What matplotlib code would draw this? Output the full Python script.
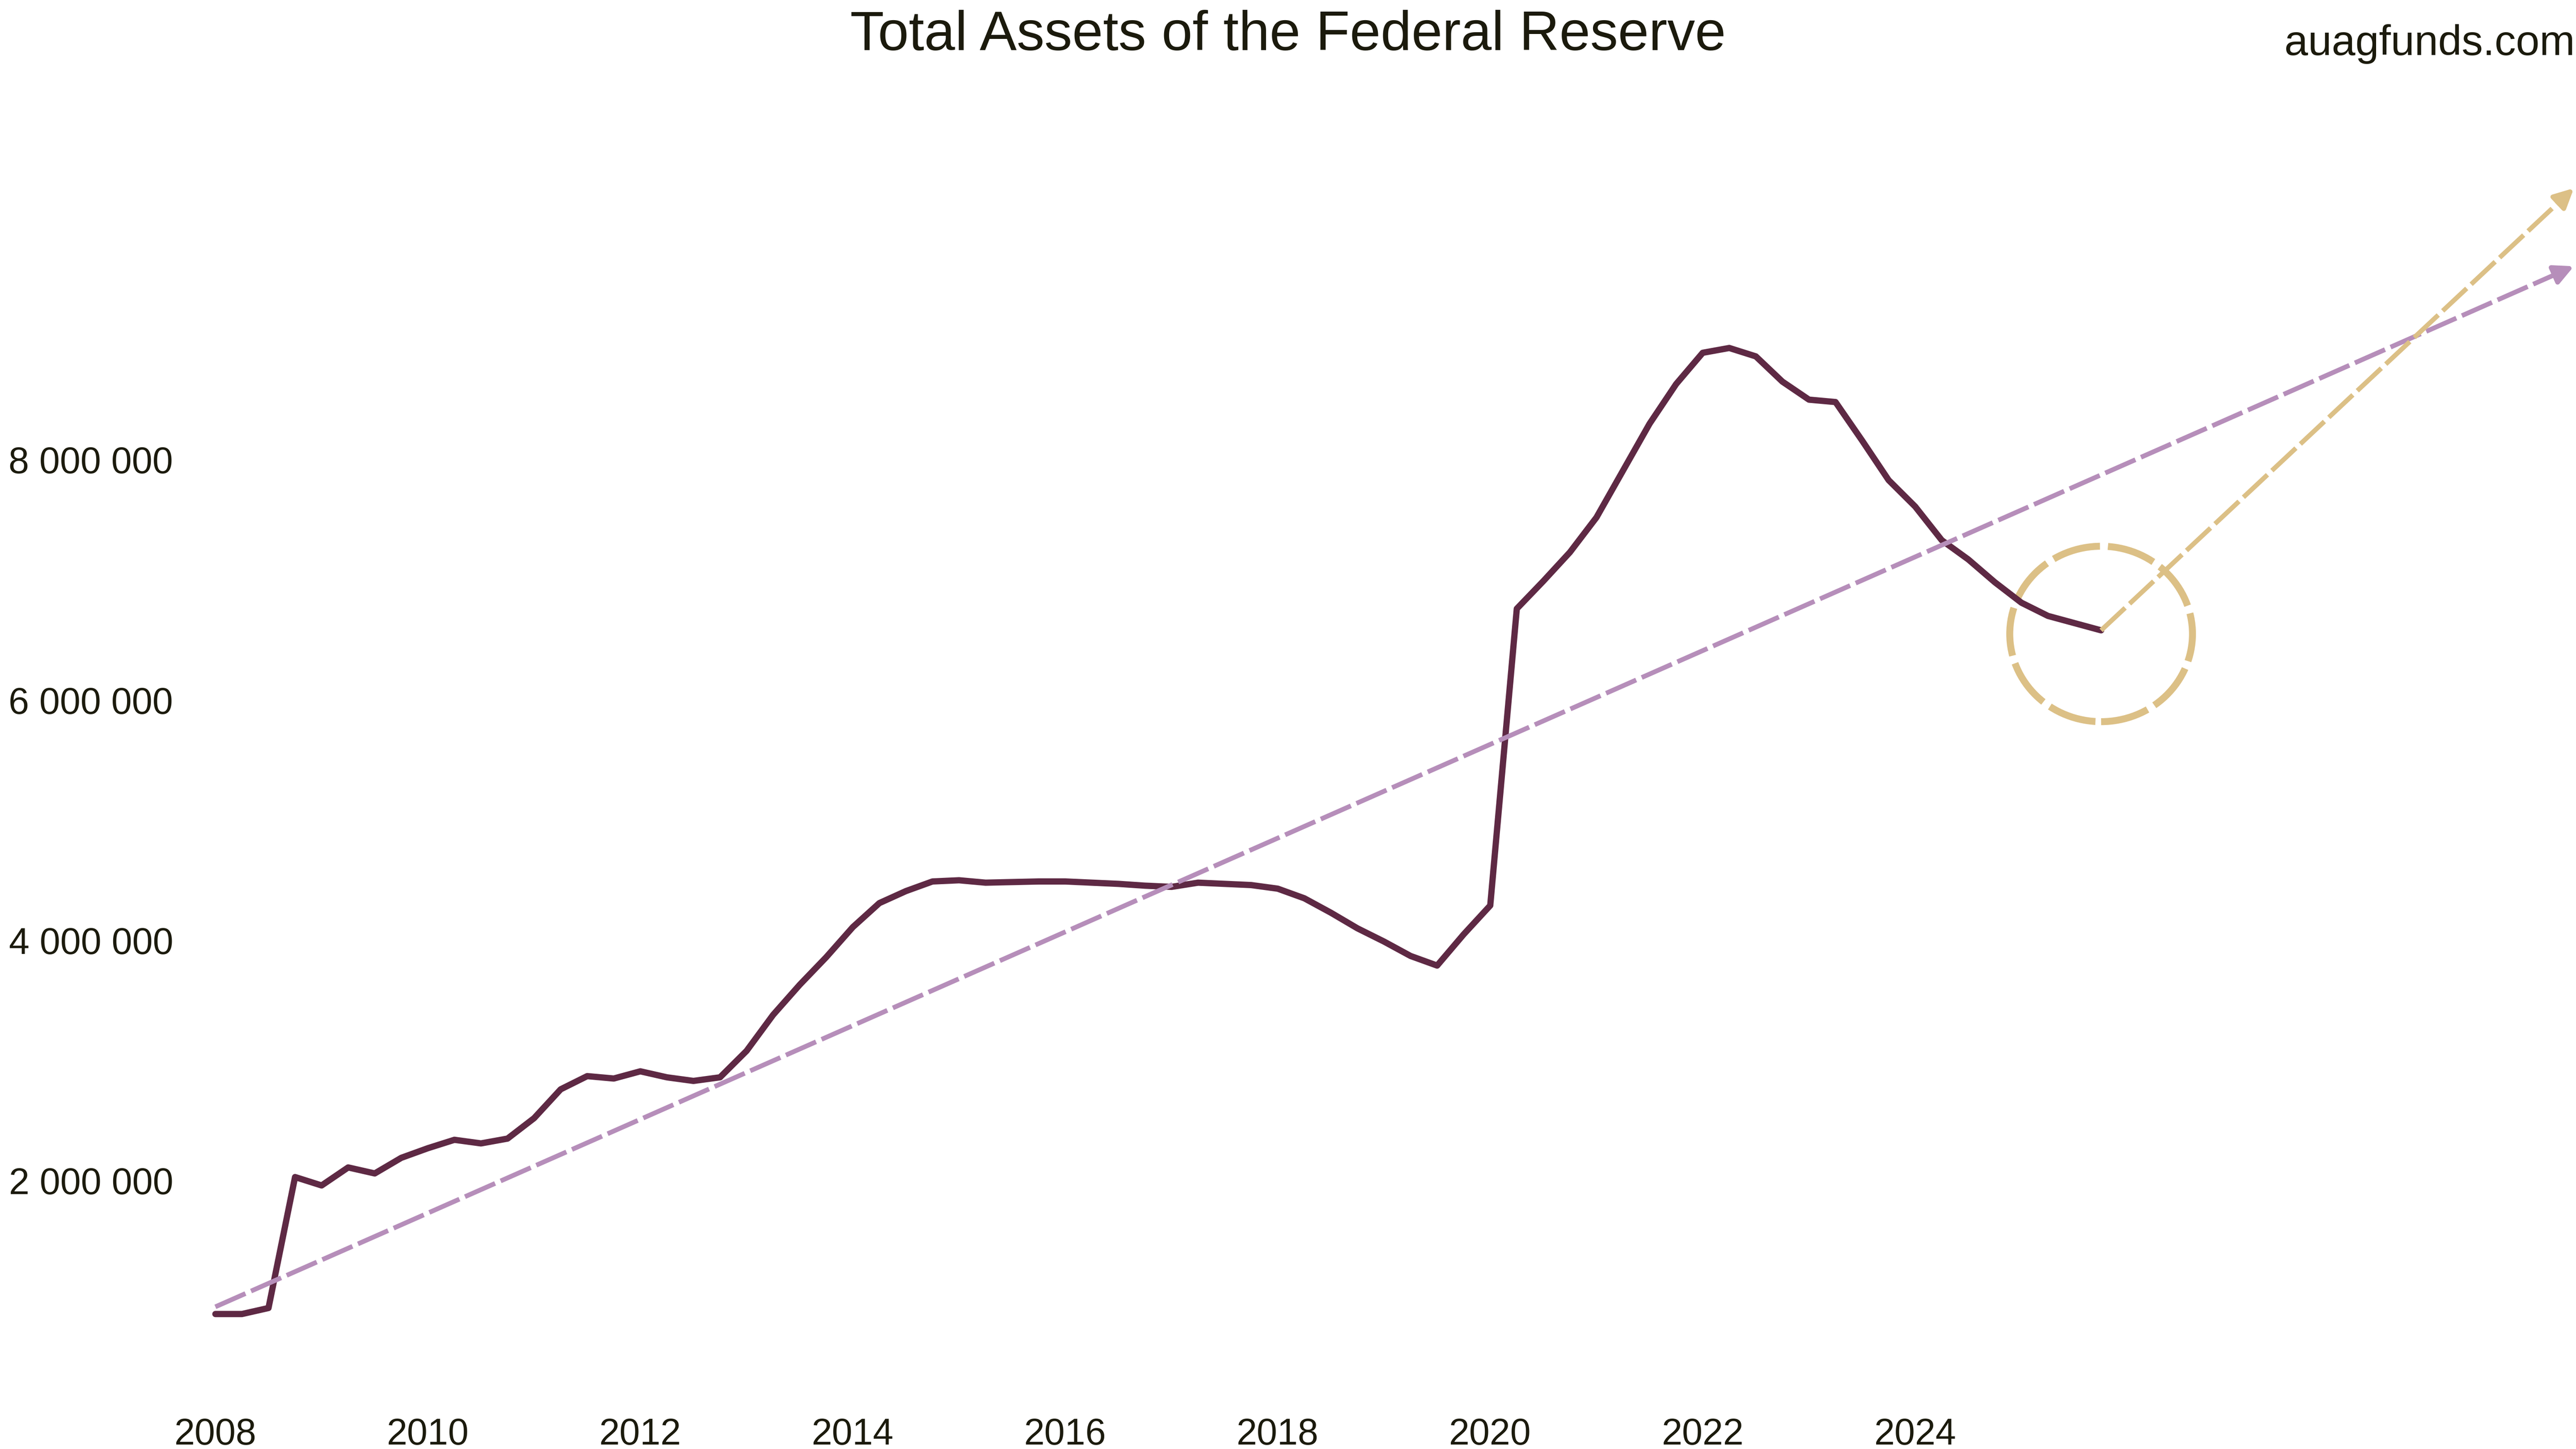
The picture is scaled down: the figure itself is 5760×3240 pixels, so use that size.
import numpy as np
import matplotlib
matplotlib.use("Agg")
import matplotlib.pyplot as plt
from matplotlib.patches import Ellipse
from matplotlib.ticker import FuncFormatter

# 1. Data (quarterly, in millions of USD)
quarters = np.arange(2008, 2026, 0.25)
total_assets_mn = [
    0.89, 0.89, 0.94, 2.03,    # 2008
    1.96, 2.11, 2.06, 2.19,    # 2009
    2.27, 2.34, 2.31, 2.35,    # 2010
    2.52, 2.76, 2.87, 2.85,    # 2011
    2.91, 2.86, 2.83, 2.86,    # 2012
    3.08, 3.38, 3.63, 3.86,    # 2013
    4.11, 4.31, 4.41, 4.49,    # 2014
    4.50, 4.48, 4.485, 4.49,   # 2015
    4.49, 4.48, 4.47, 4.455,   # 2016
    4.445, 4.48, 4.47, 4.46,   # 2017
    4.43, 4.35, 4.23, 4.10,    # 2018
    3.99, 3.87, 3.79, 4.05,    # 2019
    4.29, 6.76, 6.99, 7.23,    # 2020
    7.52, 7.91, 8.30, 8.63,    # 2021
    8.89, 8.93, 8.86, 8.65,    # 2022
    8.50, 8.48, 8.16, 7.83,    # 2023
    7.61, 7.33, 7.17, 6.98,    # 2024
    6.81, 6.70, 6.64, 6.58,    # 2025
]
total_assets = np.array(total_assets_mn) * 1e6

# trend line and projection arrow (start / end points)
trend_years = [2008.0, 2030.2]
trend_values = [0.95e6, 9.61e6]
projection_years = [2025.75, 2030.2]
projection_values = [6.58e6, 10.26e6]

# highlight around the last reading
highlight_center = (2025.75, 6.55e6)
highlight_size = (1.72, 1.46e6)

x_ticks = [2008, 2010, 2012, 2014, 2016, 2018, 2020, 2022, 2024]
y_ticks = [2e6, 4e6, 6e6, 8e6]

# 2. Styling
LINE = '#5e2944'
PURPLE = '#b68eba'
GOLD = '#dcc086'
TEXT = '#1b1a0c'
DASH = (0, (7, 1.3))

plt.rcParams['font.family'] = ['Liberation Sans', 'DejaVu Sans']

fig = plt.figure(figsize=(16, 9), dpi=360)
ax = fig.add_axes([0.0733, 0.0327, 0.9267, 0.8988])
ax.set_xlim(2007.75, 2030.22)
ax.set_ylim(0.161e6, 11.0e6)


def dashed_arrow(xs, ys, color, head_frac):
    # dashed shaft up to the head base, then a solid head on top
    bx = xs[1] - head_frac * (xs[1] - xs[0])
    by = ys[1] - head_frac * (ys[1] - ys[0])
    ax.plot([xs[0], bx], [ys[0], by], color=color, lw=2.1, ls=DASH,
            dash_capstyle='butt', zorder=4)
    ax.annotate('', xy=(xs[1], ys[1]), xytext=(bx, by),
                arrowprops=dict(arrowstyle='-|>', color=color, lw=2.1,
                                mutation_scale=18, shrinkA=0, shrinkB=0,
                                joinstyle='round'),
                zorder=4)


# 3. Chart
ax.add_patch(Ellipse(highlight_center, highlight_size[0], highlight_size[1],
                     fill=False, ec=GOLD, lw=3.1, ls=(0, (7, 1.15)), zorder=2))

ax.plot(quarters, total_assets, color=LINE, lw=2.8,
        solid_capstyle='round', solid_joinstyle='round', zorder=3)

dashed_arrow(trend_years, trend_values, PURPLE, 0.007)
dashed_arrow(projection_years, projection_values, GOLD, 0.027)

# 4. Axes
ax.set_xticks(x_ticks)
ax.set_yticks(y_ticks)
ax.yaxis.set_major_formatter(FuncFormatter(lambda v, p: f'{v:,.0f}'.replace(',', ' ')))
ax.tick_params(length=0, pad=7, labelsize=16.5, colors=TEXT)
for side in ax.spines.values():
    side.set_visible(False)

fig.text(0.5, 1 - 112 / 3240, 'Total Assets of the Federal Reserve',
         ha='center', va='baseline', fontsize=24.8, color=TEXT)
fig.text(0.9995, 1 - 123 / 3240, 'auagfunds.com',
         ha='right', va='baseline', fontsize=19, color=TEXT)

fig.savefig('out.png', dpi=360)
